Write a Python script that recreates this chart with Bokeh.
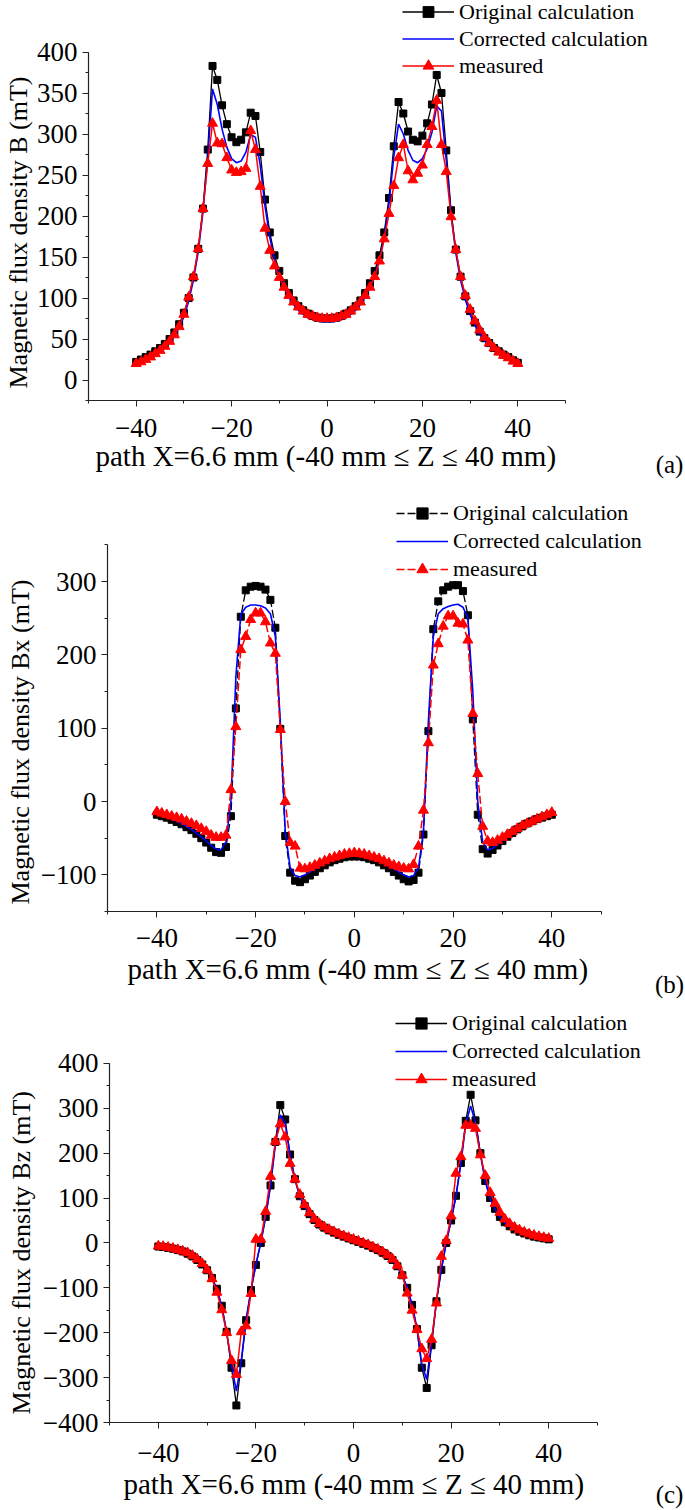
from bokeh.plotting import figure
from bokeh.models import (Legend, LegendItem, SingleIntervalTicker, FixedTicker, Range1d, Title)
from bokeh.layouts import column, row
from bokeh.embed import file_html
from bokeh.resources import INLINE

FONT = "Liberation Serif"

z_mm = [-40, -39, -38, -37, -36, -35, -34, -33, -32, -31, -30, -29, -28, -27, -26, -25, -24, -23, -22, -21,
        -20, -19, -18, -17, -16, -15, -14, -13, -12, -11, -10, -9, -8, -7, -6, -5, -4, -3, -2, -1,
        0, 1, 2, 3, 4, 5, 6, 7, 8, 9, 10, 11, 12, 13, 14, 15, 16, 17, 18, 19,
        20, 21, 22, 23, 24, 25, 26, 27, 28, 29, 30, 31, 32, 33, 34, 35, 36, 37, 38, 39, 40]

series_names = ["Original calculation", "Corrected calculation", "measured"]
x_label = "path X=6.6 mm (-40 mm \u2264 Z \u2264 40 mm)"
x_bounds = (-50, 50)
x_tick_step = 20

# ---- (a) Magnetic flux density B (mT)
B_original = [22, 25, 28, 31, 35, 39, 44, 50, 58, 68, 82, 100, 125, 160, 209, 281, 383, 366, 335, 312,
              296, 290, 293, 302, 326, 322, 278, 220, 180, 152, 133, 118, 106, 97, 90, 85, 81, 78, 76, 75,
              75, 75, 76, 78, 81, 85, 90, 97, 106, 118, 133, 152, 180, 222, 285, 339, 325, 303, 293, 291,
              298, 313, 336, 372, 350, 280, 207, 159, 126, 102, 84, 70, 59, 51, 45, 39, 35, 31, 28, 24, 21]
B_corrected = [20, 22, 25, 28, 31, 35, 40, 46, 54, 64, 77, 96, 122, 156, 205, 272, 355, 336, 306, 284,
               270, 265, 267, 278, 299, 296, 262, 212, 174, 147, 128, 113, 101, 92, 85, 80, 76, 74, 72, 71,
               71, 71, 72, 74, 76, 80, 85, 92, 101, 113, 128, 147, 174, 215, 272, 312, 300, 280, 268, 265,
               270, 282, 302, 334, 328, 268, 203, 155, 122, 98, 80, 67, 56, 48, 42, 37, 33, 29, 26, 23, 20]
B_measured = [20, 22, 25, 28, 32, 36, 41, 47, 55, 65, 80, 101, 126, 160, 209, 264, 313, 289, 288, 271,
              256, 253, 254, 258, 304, 281, 236, 185, 158, 139, 125, 113, 103, 95, 89, 84, 80, 78, 76, 75,
              75, 75, 76, 78, 80, 84, 89, 95, 103, 113, 126, 145, 172, 203, 237, 271, 287, 255, 244, 252,
              262, 287, 309, 341, 287, 254, 199, 159, 126, 103, 86, 72, 61, 52, 45, 39, 34, 30, 27, 23, 20]

# ---- (b) Magnetic flux density Bx (mT)
Bx_original = [-18, -20, -22, -25, -28, -31, -35, -39, -44, -50, -56, -63, -69, -70, -62, -20, 127, 252, 288, 293,
               294, 293, 289, 275, 237, 99, -47, -97, -108, -110, -106, -101, -96, -91, -87, -83, -80, -78, -76, -75,
               -75, -75, -76, -78, -80, -83, -87, -91, -96, -101, -106, -109, -107, -97, -45, 96, 235, 273, 288, 293,
               295, 295, 287, 254, 112, -18, -65, -71, -66, -60, -54, -48, -43, -38, -34, -30, -27, -24, -22, -20, -18]
Bx_corrected = [-17, -19, -21, -24, -27, -30, -34, -38, -43, -48, -54, -60, -65, -66, -55, 0, 170, 255, 265, 268,
                268, 267, 264, 256, 225, 110, -40, -90, -101, -103, -100, -96, -92, -88, -84, -81, -78, -76, -75, -74,
                -74, -74, -75, -76, -78, -81, -84, -88, -92, -96, -100, -103, -101, -90, -40, 110, 225, 256, 263, 266,
                268, 269, 265, 250, 150, 0, -55, -66, -64, -59, -53, -47, -42, -37, -33, -30, -27, -24, -21, -19, -17]
Bx_measured = [-14, -16, -18, -20, -22, -24, -27, -30, -33, -37, -41, -46, -49, -49, -46, 16, 102, 207, 225, 248,
               257, 257, 245, 216, 202, 98, 0, -56, -61, -91, -92, -90, -87, -84, -81, -78, -76, -74, -72, -71,
               -70, -71, -72, -74, -76, -78, -81, -84, -87, -89, -91, -92, -86, -61, -12, 80, 186, 215, 239, 253,
               253, 243, 242, 220, 120, 38, -34, -54, -56, -53, -49, -45, -41, -37, -33, -30, -27, -24, -21, -18, -15]

# ---- (c) Magnetic flux density Bz (mT)
Bz_original = [-8, -9, -11, -13, -16, -19, -24, -30, -38, -48, -61, -78, -102, -140, -198, -278, -362, -268, -172, -105,
               -49, 0, 58, 128, 225, 307, 275, 197, 142, 104, 82, 64, 51, 41, 34, 28, 23, 18, 14, 10,
               6, 2, -2, -6, -11, -16, -22, -29, -38, -52, -72, -100, -138, -192, -278, -323, -228, -130, -60, 0,
               50, 105, 178, 272, 330, 273, 200, 138, 100, 76, 58, 46, 37, 30, 25, 21, 17, 14, 12, 10, 8]
Bz_corrected = [-8, -9, -11, -13, -16, -19, -24, -30, -38, -48, -61, -79, -103, -141, -198, -272, -330, -262, -170, -104,
                -48, 0, 58, 128, 220, 285, 266, 195, 141, 103, 81, 63, 50, 40, 33, 27, 22, 17, 13, 9,
                5, 1, -3, -7, -12, -17, -23, -30, -39, -53, -73, -100, -137, -190, -270, -304, -222, -128, -59, 0,
                50, 104, 176, 265, 305, 268, 198, 137, 99, 75, 57, 45, 36, 30, 25, 21, 17, 14, 12, 10, 8]
Bz_measured = [-7, -8, -10, -12, -15, -18, -22, -28, -36, -46, -60, -80, -110, -149, -200, -262, -293, -198, -185, -113,
               8, 8, 70, 148, 226, 265, 236, 177, 142, 108, 85, 67, 53, 43, 36, 30, 25, 20, 16, 12,
               8, 4, 0, -4, -9, -14, -20, -27, -36, -50, -72, -112, -150, -193, -236, -258, -215, -134, -30, 5,
               60, 155, 192, 262, 262, 255, 196, 150, 112, 88, 68, 53, 43, 35, 29, 24, 20, 17, 14, 12, 10]

MAIN_W = 653
LETTER_W = 32


def make_panel(orig, corr, meas, ylabel, y_bounds, y_step, H, bl, bb, x_px_per_unit, y_px_per_unit,
               leg_xy, leg_row, dashed, tick_standoff, xlab_offset, xlab_standoff,
               ylab_offset, ylab_standoff):
    frame_w = MAIN_W - bl
    frame_h = H - bb
    x_end = x_bounds[0] + frame_w / x_px_per_unit
    y_end = y_bounds[0] + frame_h / y_px_per_unit
    p = figure(width=MAIN_W, height=H, x_range=Range1d(x_bounds[0], x_end),
               y_range=Range1d(y_bounds[0], y_end),
               output_backend="svg", toolbar_location=None,
               min_border_left=bl, min_border_right=0, min_border_top=0, min_border_bottom=bb)
    p.grid.visible = False
    p.outline_line_color = None

    p.xaxis.ticker = SingleIntervalTicker(interval=x_tick_step, num_minor_ticks=2)
    p.yaxis.ticker = SingleIntervalTicker(interval=y_step, num_minor_ticks=2)
    p.xaxis.bounds = x_bounds
    p.yaxis.bounds = y_bounds
    for ax in (p.xaxis[0], p.yaxis[0]):
        ax.axis_line_color = "#222222"
        ax.axis_line_width = 1.2
        ax.major_tick_line_color = "#222222"
        ax.minor_tick_line_color = "#222222"
        ax.major_tick_in = 0
        ax.major_tick_out = 6
        ax.minor_tick_in = 0
        ax.minor_tick_out = 3
        ax.major_label_text_font = FONT
        ax.major_label_text_font_size = "27px"
        ax.major_label_text_color = "black"
    p.xaxis.major_label_standoff = tick_standoff
    p.yaxis.major_label_standoff = 5

    # axis titles as side-panel titles so they sit relative to the bounded axes
    p.add_layout(Title(text=x_label, align="left", vertical_align="top", offset=xlab_offset,
                       standoff=xlab_standoff, text_font=FONT, text_font_size="29px",
                       text_font_style="normal", text_color="black"), "below")
    p.add_layout(Title(text=ylabel, align="left", vertical_align="bottom", offset=ylab_offset,
                       standoff=ylab_standoff, text_font=FONT, text_font_size="26px",
                       text_font_style="normal", text_color="black"), "left")

    dash = "8 3" if dashed else "solid"
    l1 = p.line(z_mm, orig, line_color="black", line_width=1.3, line_dash=dash)
    s1 = p.scatter(z_mm, orig, marker="square", size=7, color="black")
    l2 = p.line(z_mm, corr, line_color="#0000ff", line_width=1.6)
    l3 = p.line(z_mm, meas, line_color="#ff0000", line_width=1.5, line_dash=dash)
    s3 = p.scatter(z_mm, meas, marker="triangle", size=10, color="#ff0000")

    legend = Legend(items=[LegendItem(label=series_names[0], renderers=[l1, s1]),
                           LegendItem(label=series_names[1], renderers=[l2]),
                           LegendItem(label=series_names[2], renderers=[l3, s3])],
                    location=leg_xy, orientation="vertical",
                    label_text_font=FONT, label_text_font_size="22px",
                    label_text_color="black",
                    glyph_width=52, glyph_height=leg_row, label_height=leg_row,
                    label_standoff=5, spacing=0, padding=0, margin=0,
                    border_line_color=None, background_fill_alpha=0)
    p.add_layout(legend)
    return p


def make_letter(text, H, standoff):
    f = figure(width=LETTER_W, height=H, x_range=Range1d(0, 1), y_range=Range1d(0, 1),
               y_axis_type=None, output_backend="svg", toolbar_location=None,
               min_border=0)
    f.grid.visible = False
    f.outline_line_color = None
    ax = f.xaxis[0]
    ax.ticker = FixedTicker(ticks=[])
    ax.axis_line_color = None
    ax.major_tick_out = 0
    ax.major_tick_in = 0
    ax.minor_tick_out = 0
    ax.minor_tick_in = 0
    ax.major_label_standoff = 0
    ax.axis_label = text
    ax.axis_label_standoff = standoff
    ax.axis_label_text_font = FONT
    ax.axis_label_text_font_size = "25px"
    ax.axis_label_text_font_style = "normal"
    ax.axis_label_text_color = "black"
    return f


pa = make_panel(B_original, B_corrected, B_measured, "Magnetic flux density B (mT)",
                (-25, 400), 50, 485, 88, 85, 4.77, 0.82, (314, 321), 27, False,
                12, 7, 0, 12, 2)
pb = make_panel(Bx_original, Bx_corrected, Bx_measured, "Magnetic flux density Bx (mT)",
                (-150, 350), 100, 515, 100, 88, 5.0, 0.735, (289, 328), 28, True,
                11, 20, 6, 7, 6)
pc = make_panel(Bz_original, Bz_corrected, Bz_measured, "Magnetic flux density Bz (mT)",
                (-400, 400), 100, 510, 109, 87, 4.88, 0.45, (286, 329), 28, False,
                15, 14, 6, 8, 8)

la = make_letter("(a)", 485, 50)
lb = make_letter("(b)", 515, 59)
lc = make_letter("(c)", 510, 58)

layout = column(row(pa, la, spacing=0), row(pb, lb, spacing=0), row(pc, lc, spacing=0), spacing=0)
open("out.html", "w").write(file_html(layout, INLINE))
